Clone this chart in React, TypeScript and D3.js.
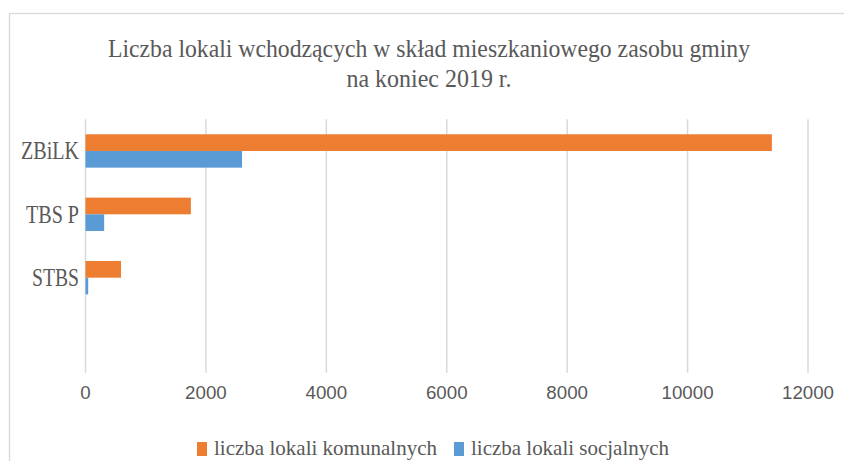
import React from 'react';
import * as d3 from 'd3';

// data
const categories = ['ZBiLK', 'TBS P', 'STBS', ''];
const seriesNames = ['liczba lokali komunalnych', 'liczba lokali socjalnych'];
const komunalne = [11400, 1750, 590, 0];
const socjalne = [2600, 310, 45, 0];
const xTicks = [0, 2000, 4000, 6000, 8000, 10000, 12000];
const titleLines = ['Liczba lokali wchodzących w skład mieszkaniowego zasobu gminy', 'na koniec 2019 r.'];

const colors = ['#ED7D31', '#5B9BD5'];
const textColor = '#595959';
const gridColor = '#d9d9d9';
const serif = '"Liberation Serif", "Times New Roman", serif';

// widths of the squeezed texts in the reference
const titleWidths = [642, 165];
const catWidths: Record<string, number> = { 'ZBiLK': 58, 'TBS P': 53, 'STBS': 47 };
const legendWidths = [223, 198];

export default function App() {
    const width = 844, height = 461;
    const plot = { left: 85.5, right: 808, top: 119.3, bottom: 372.7 };

    const values = [komunalne, socjalne];

    const x = d3.scaleLinear()
        .domain([0, 12000])
        .range([plot.left, plot.right]);

    const y = d3.scaleBand<string>()
        .domain(categories)
        .range([plot.top, plot.bottom])
        .paddingInner(0.473)
        .paddingOuter(0.2365);

    const ySub = d3.scaleBand<number>()
        .domain([0, 1])
        .range([0, y.bandwidth()]);

    return (
        <svg width={width} height={height}
            style={{ position: 'absolute', left: 0, top: 0, background: '#fff' }}>
            <rect x={9.5} y={13.5} width={900} height={500} fill="#fff" stroke={gridColor} strokeWidth={1.3} />

            {/* title */}
            {titleLines.map((t, i) => (
                <text key={i} x={429} y={57 + i * 29.5} textAnchor="middle"
                    style={{ fontFamily: serif }} fontSize={26}
                    fill={textColor} textLength={titleWidths[i]} lengthAdjust="spacingAndGlyphs">{t}</text>
            ))}

            {/* gridlines */}
            {x.ticks(6).map(t => (
                <line key={t} x1={x(t)} x2={x(t)} y1={plot.top} y2={plot.bottom}
                    stroke={gridColor} strokeWidth={1.5} />
            ))}

            {/* bars */}
            {categories.map((c, ci) => values.map((vals, si) => (
                vals[ci] > 0 ? (
                    <rect key={c + si} x={x(0)} y={(y(c) ?? 0) + (ySub(si) ?? 0)}
                        width={x(vals[ci]) - x(0)} height={ySub.bandwidth()} fill={colors[si]} />
                ) : null
            )))}

            {/* category labels */}
            {categories.filter(c => c).map(c => (
                <text key={c} x={79} y={(y(c) ?? 0) + y.bandwidth() / 2 + 8.5} textAnchor="end"
                    style={{ fontFamily: serif }} fontSize={25}
                    fill={textColor} textLength={catWidths[c]} lengthAdjust="spacingAndGlyphs">{c}</text>
            ))}

            {/* x tick labels */}
            {xTicks.map(t => (
                <text key={t} x={x(t)} y={399} textAnchor="middle"
                    style={{ fontFamily: '"Liberation Sans", Arial, sans-serif' }} fontSize={19}
                    fill={textColor} textLength={String(t).length * 10.4} lengthAdjust="spacingAndGlyphs">{t}</text>
            ))}

            {/* legend */}
            {seriesNames.map((s, i) => {
                const lx = i === 0 ? 197 : 454;
                return (
                    <g key={s}>
                        <rect x={lx} y={442} width={10} height={14} fill={colors[i]} />
                        <text x={lx + 17} y={454.5}
                            style={{ fontFamily: serif }} fontSize={22}
                            fill={textColor} textLength={legendWidths[i]} lengthAdjust="spacingAndGlyphs">{s}</text>
                    </g>
                );
            })}
        </svg>
    );
}
